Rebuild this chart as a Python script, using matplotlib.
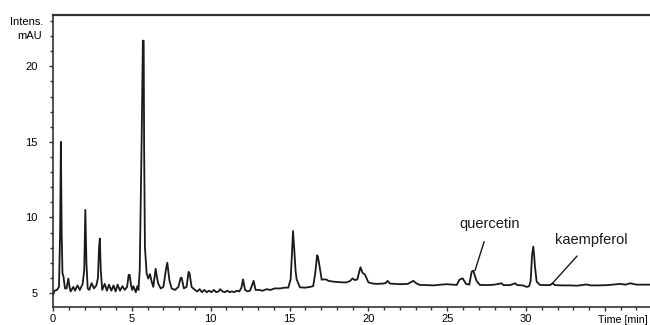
import numpy as np
import matplotlib
matplotlib.use("Agg")
import matplotlib.pyplot as plt
from matplotlib.ticker import MultipleLocator, FixedLocator

plt.rcParams['font.family'] = ['Liberation Sans', 'DejaVu Sans']

# chromatogram trace (time in min, intensity in mAU)
time_min = [
    0.00, 0.10, 0.25, 0.38, 0.45, 0.50, 0.55, 0.60, 0.66, 0.76, 0.86, 0.97, 1.05, 1.12,
    1.29, 1.40, 1.55, 1.70, 1.88, 1.98, 2.05, 2.12, 2.20, 2.30, 2.45, 2.60, 2.75, 2.85,
    2.92, 2.97, 3.03, 3.12, 3.28, 3.42, 3.55, 3.70, 3.84, 3.97, 4.10, 4.25, 4.40, 4.55,
    4.70, 4.80, 4.86, 4.95, 5.02, 5.10, 5.25, 5.35, 5.42, 5.50, 5.62, 5.70, 5.75, 5.78,
    5.83, 5.94, 6.04, 6.15, 6.26, 6.36, 6.51, 6.60, 6.68, 6.83, 7.00, 7.17, 7.25, 7.38,
    7.52, 7.74, 7.95, 8.10, 8.16, 8.30, 8.47, 8.60, 8.66, 8.79, 9.00, 9.15, 9.30, 9.45,
    9.60, 9.75, 9.90, 10.05, 10.20, 10.35, 10.50, 10.60, 10.75, 10.90, 11.05, 11.20, 11.35,
    11.50, 11.65, 11.82, 11.95, 12.05, 12.18, 12.35, 12.49, 12.62, 12.72, 12.85, 13.05,
    13.30, 13.55, 13.80, 14.05, 14.40, 14.70, 14.92, 15.07, 15.15, 15.22, 15.30, 15.38,
    15.45, 15.66, 16.00, 16.30, 16.50, 16.63, 16.75, 16.80, 16.89, 17.04, 17.20, 17.36,
    17.46, 17.78, 18.10, 18.40, 18.62, 18.85, 19.00, 19.15, 19.30, 19.42, 19.50, 19.62,
    19.79, 20.00, 20.30, 20.53, 20.90, 21.10, 21.22, 21.37, 21.70, 22.00, 22.50, 22.85,
    23.06, 23.27, 23.70, 24.12, 24.60, 24.97, 25.30, 25.60, 25.77, 25.98, 26.19, 26.40,
    26.55, 26.65, 26.86, 27.07, 27.60, 28.00, 28.45, 28.56, 29.00, 29.30, 29.45, 29.80,
    30.04, 30.20, 30.29, 30.38, 30.46, 30.52, 30.56, 30.67, 30.88, 31.20, 31.52, 31.69,
    31.83, 32.30, 32.80, 33.21, 33.84, 34.10, 34.60, 35.20, 35.96, 36.30, 36.60, 37.00,
    37.50, 37.90,
]
intensity = [
    4.85, 5.15, 5.20, 5.40, 9.00, 15.00, 9.00, 6.30, 6.10, 5.30, 5.30, 5.95, 5.40, 5.10,
    5.40, 5.15, 5.50, 5.20, 5.60, 6.50, 10.50, 7.00, 5.30, 5.20, 5.65, 5.30, 5.50, 6.00,
    8.00, 8.60, 6.50, 5.20, 5.60, 5.15, 5.55, 5.15, 5.50, 5.10, 5.55, 5.15, 5.45, 5.20,
    5.40, 6.20, 6.20, 5.50, 5.20, 5.45, 5.05, 5.45, 5.20, 6.50, 15.00, 21.70, 21.70, 14.50,
    8.00, 6.30, 5.95, 6.25, 5.75, 5.40, 6.60, 6.00, 5.60, 5.30, 5.40, 6.60, 7.00, 5.85,
    5.30, 5.20, 5.40, 6.00, 6.00, 5.30, 5.40, 6.40, 6.30, 5.40, 5.20, 5.10, 5.25, 5.05,
    5.20, 5.05, 5.15, 5.05, 5.20, 5.05, 5.10, 5.25, 5.10, 5.05, 5.15, 5.05, 5.10,
    5.05, 5.15, 5.10, 5.35, 5.90, 5.20, 5.10, 5.15, 5.50, 5.80, 5.20, 5.20,
    5.15, 5.25, 5.20, 5.30, 5.30, 5.35, 5.35, 5.90, 7.50, 9.10, 7.90, 6.50,
    5.90, 5.37, 5.35, 5.40, 5.45, 6.30, 7.50, 7.40, 6.86, 5.88, 5.90, 5.88,
    5.80, 5.75, 5.72, 5.70, 5.70, 5.80, 5.96, 5.85, 5.90, 6.40, 6.70, 6.35,
    6.20, 5.70, 5.62, 5.60, 5.62, 5.65, 5.80, 5.62, 5.60, 5.58, 5.60, 5.80,
    5.62, 5.53, 5.52, 5.50, 5.55, 5.58, 5.55, 5.53, 5.87, 5.97, 5.60, 5.55,
    6.41, 6.48, 5.80, 5.53, 5.52, 5.55, 5.64, 5.52, 5.52, 5.64, 5.52, 5.50,
    5.40, 5.45, 5.80, 7.50, 8.07, 7.40, 6.80, 5.75, 5.53, 5.52, 5.52, 5.64,
    5.52, 5.50, 5.50, 5.48, 5.56, 5.50, 5.50, 5.52, 5.60, 5.55, 5.64, 5.55,
    5.55, 5.55,
]

peak_names = ["quercetin", "kaempferol"]
peak_tips = [(26.76, 6.48), (31.64, 5.60)]
label_pos = [(27.70, 9.57), (34.15, 8.50)]

fig = plt.figure(figsize=(6.5, 3.25), dpi=100)
ax = fig.add_axes([53 / 650, 18 / 325, 1 - 53 / 650, 292 / 325])

ax.plot(time_min, intensity, color='#1a1a1a', linewidth=1.3)

ax.set_xlim(0, 37.86)
ax.set_ylim(4.07, 23.4)

ax.spines['right'].set_visible(False)
for s in ['top', 'left', 'bottom']:
    ax.spines[s].set_color('#333333')
ax.spines['top'].set_linewidth(1.6)
ax.spines['left'].set_linewidth(1.2)
ax.spines['bottom'].set_linewidth(1.2)

ax.xaxis.set_major_locator(FixedLocator([0, 5, 10, 15, 20, 25, 30, 35]))
ax.set_xticklabels(['0', '5', '10', '15', '20', '25', '30', ''])
ax.xaxis.set_minor_locator(MultipleLocator(1))
ax.yaxis.set_major_locator(FixedLocator([5, 10, 15, 20]))
ax.yaxis.set_minor_locator(MultipleLocator(1))

ax.tick_params(axis='both', which='both', direction='out', color='#333333', labelsize=8)
ax.tick_params(axis='both', which='major', length=3.2, width=1)
ax.tick_params(axis='both', which='minor', length=2.2, width=1)
ax.tick_params(axis='y', which='major', pad=8)
ax.tick_params(axis='x', which='major', pad=1.5)

fig.text(43 / 650, 1 - 22 / 325, 'Intens.', ha='right', va='center', fontsize=8)
fig.text(42 / 650, 1 - 36 / 325, 'mAU', ha='right', va='center', fontsize=8)
fig.text(648 / 650, 1 - 320 / 325, 'Time [min]', ha='right', va='center', fontsize=7.7)

for name, tip, pos in zip(peak_names, peak_tips, label_pos):
    ax.annotate(name, xy=tip, xytext=pos, ha='center', va='center', fontsize=10.5,
                color='#1a1a1a',
                arrowprops=dict(arrowstyle='-', color='#1a1a1a', lw=1,
                                shrinkA=6, shrinkB=0))

fig.savefig('out.png', dpi=100)
